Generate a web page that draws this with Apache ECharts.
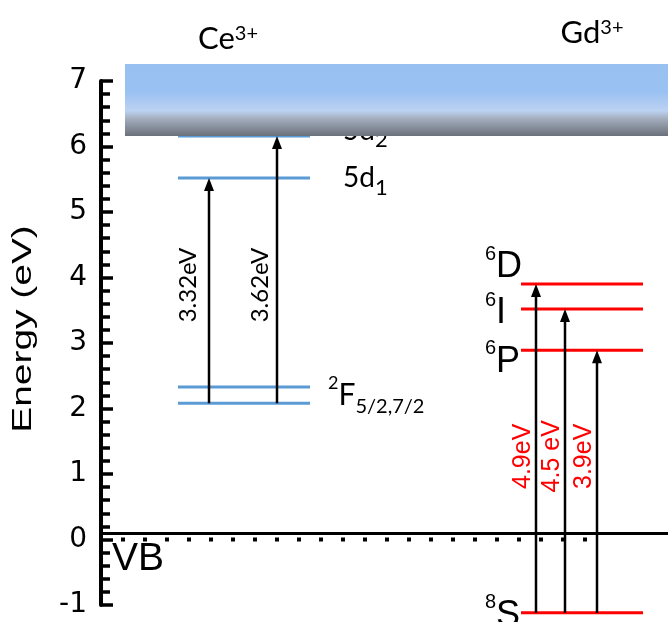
<!DOCTYPE html>
<html>
<head>
<meta charset="utf-8">
<script src="https://cdn.jsdelivr.net/npm/echarts@6/dist/echarts.min.js"></script>
<style>
html,body{margin:0;padding:0;background:#fff;}
#c{width:668px;height:622px;}
</style>
</head>
<body>
<div id="c"></div>
<script>
// ---------------- data ----------------
const yMin = -1, yMax = 7, yStep = 1;
const axisTitle = 'Energy (eV)';
const ionTitles = ['{m|Ce}{p|3+}', '{m|Gd}{p|3+}'];

const ceLevelEnergies = [6.16, 5.52, 2.33, 2.08];
const ceLevelLabels = ['{m|5d}{s|2}', '{m|5d}{s|1}', '', '{p|2}{f|F}{q|5/2,7/2}'];
const ceTransitionFrom = [2.08, 2.08];
const ceTransitionTo = [5.52, 6.16];
const ceTransitionLabels = ['3.32eV', '3.62eV'];

const gdLevelEnergies = [3.90, 3.52, 2.89, -1.12];
const gdLevelLabels = ['{p|6}{m|D}', '{p|6}{m|I}', '{p|6}{m|P}', '{p|8}{m|S}'];
const gdTransitionFrom = [-1.12, -1.12, -1.12];
const gdTransitionTo = [3.90, 3.52, 2.89];
const gdTransitionLabels = ['4.9eV', '4.5 eV', '3.9eV'];

const cbBand = [6.16, 7.26];       // conduction band (bottom, top)
const vbEnergy = 0;                // valence band top (dotted)
const baselineEnergy = 0.09;       // solid reference line
const vbLabel = 'VB';

// ---------------- layout (x in axis units = px from plot left) ----------------
const L = {
  grid: {left: 101, right: 0, top: 81, bottom: 17},
  xMax: 567,
  ce: {x0: 77, x1: 209, labelX: [242, 242, 0, 227], labelDy: [-5.5, 0.5, 0, -8],
       arrowX: [108, 176], arrowLabelDx: [-21, -17], arrowLabelY: 3.885},
  gd: {x0: 420, x1: 542, labelLeft: 384, labelDy: [-17, 4.5, 11.5, 3],
       arrowX: [435, 464, 496], arrowLabelDx: -12.5, arrowLabelY: 1.27},
  band: {x0: 24, x1: 567},
  dots: {x0: -2, x1: 491},
  vbLabelX: 11, vbLabelDy: 20
};

const LATO = 'Lato, "Open Sans", sans-serif';
const ARIAL = '"Liberation Sans", Arial, sans-serif';
const BLUE = '#5b9bd5', RED = '#ff0000';

const ceRich = {
  m: {fontFamily: LATO, fontSize: 28, lineHeight: 41, color: '#000'},
  s: {fontFamily: LATO, fontSize: 22, lineHeight: 22, verticalAlign: 'bottom', color: '#000'},
  p: {fontFamily: LATO, fontSize: 18, lineHeight: 30, verticalAlign: 'top', color: '#000'},
  f: {fontFamily: LATO, fontSize: 30, lineHeight: 43, color: '#000'},
  q: {fontFamily: LATO, fontSize: 20, lineHeight: 20, verticalAlign: 'bottom', color: '#000'}
};
const gdRich = {
  m: {fontFamily: ARIAL, fontSize: 36, lineHeight: 46, color: '#000'},
  p: {fontFamily: ARIAL, fontSize: 20, lineHeight: 20, verticalAlign: 'top', color: '#000'}
};
const titleRich = {
  m: {fontFamily: LATO, fontSize: 31, lineHeight: 30, color: '#000'},
  p: {fontFamily: LATO, fontSize: 20, lineHeight: 21, verticalAlign: 'top', color: '#000'}
};

function arrow(api, xv, from, to, color) {
  const a = api.coord([xv, from]), b = api.coord([xv, to]);
  const head = 13, hw = 5;
  return [
    {type: 'line', shape: {x1: a[0], y1: a[1], x2: b[0], y2: b[1] + head - 1},
     style: {stroke: color, lineWidth: 2.5}},
    {type: 'polygon', shape: {points: [[b[0], b[1]], [b[0] - hw, b[1] + head], [b[0] + hw, b[1] + head]]},
     style: {fill: color}}
  ];
}

const chart = echarts.init(document.getElementById('c'), null, {renderer: 'canvas'});

const option = {
  animation: false,
  backgroundColor: '#fff',
  grid: L.grid,
  xAxis: {type: 'value', min: 0, max: L.xMax, show: false},
  yAxis: {
    type: 'value', min: yMin, max: yMax, interval: yStep,
    axisLine: {show: true, lineStyle: {color: '#000', width: 4}},
    axisTick: {show: true, inside: true, length: 12, lineStyle: {color: '#000', width: 3.5}},
    minorTick: {show: true, splitNumber: 5, length: 9, lineStyle: {color: '#000', width: 3.5}},
    splitLine: {show: false},
    axisLabel: {fontFamily: 'DejaVu Sans', fontSize: 28, color: '#000', margin: 14}
  },
  graphic: [
    {type: 'text', x: 23, y: 329, rotation: Math.PI / 2, scaleX: 1.39,
     style: {text: axisTitle, font: '28px ' + ARIAL, fill: '#000', align: 'center', verticalAlign: 'middle'}},
    {type: 'text', x: 228, y: 39,
     style: {text: ionTitles[0], rich: titleRich, align: 'center', verticalAlign: 'middle', fill: '#000'}},
    {type: 'text', x: 592, y: 33,
     style: {text: ionTitles[1], rich: titleRich, align: 'center', verticalAlign: 'middle', fill: '#000'}}
  ],
  series: [
    // reference lines: baseline + dotted VB
    {
      type: 'custom', name: 'VB', clip: false, z: 2,
      data: [[0, vbEnergy, baselineEnergy]],
      renderItem(params, api) {
        const v = api.value(1), b = api.value(2);
        const s0 = api.coord([0, b]), s1 = api.coord([L.xMax, b]);
        const d0 = api.coord([L.dots.x0, v]), d1 = api.coord([L.dots.x1, v]);
        const lbl = api.coord([L.vbLabelX, v]);
        return {type: 'group', children: [
          {type: 'line', shape: {x1: s0[0], y1: s0[1], x2: s1[0], y2: s1[1]}, style: {stroke: '#000', lineWidth: 3}},
          {type: 'line', shape: {x1: d0[0], y1: d0[1], x2: d1[0], y2: d1[1]},
           style: {stroke: '#000', lineWidth: 4, lineDash: [4, 18]}},
          {type: 'text', x: lbl[0], y: lbl[1] + L.vbLabelDy,
           style: {text: vbLabel, font: '39px ' + ARIAL, fill: '#000', align: 'left', verticalAlign: 'middle'}}
        ]};
      }
    },
    // Ce levels
    {
      type: 'custom', name: 'Ce levels', clip: false, z: 3,
      data: ceLevelEnergies.map((e, i) => [i, e]),
      encode: {x: 0, y: 1},
      renderItem(params, api) {
        const i = params.dataIndex, e = api.value(1);
        const p0 = api.coord([L.ce.x0, e]), p1 = api.coord([L.ce.x1, e]);
        const ch = [{type: 'line', shape: {x1: p0[0], y1: p0[1], x2: p1[0], y2: p1[1]},
                     style: {stroke: BLUE, lineWidth: 3}}];
        if (ceLevelLabels[i]) {
          const lx = api.coord([L.ce.labelX[i], e])[0];
          ch.push({type: 'text', x: lx, y: p0[1] + L.ce.labelDy[i],
                   style: {text: ceLevelLabels[i], rich: ceRich, align: 'left', verticalAlign: 'middle', fill: '#000'}});
        }
        return {type: 'group', children: ch};
      }
    },
    // Ce transitions
    {
      type: 'custom', name: 'Ce transitions', clip: false, z: 4,
      data: ceTransitionFrom.map((f, i) => [i, f, ceTransitionTo[i]]),
      encode: {x: 0, y: [1, 2]},
      renderItem(params, api) {
        const i = params.dataIndex;
        const xv = L.ce.arrowX[i];
        const ch = arrow(api, xv, api.value(1), api.value(2), '#000');
        const lp = api.coord([xv, L.ce.arrowLabelY]);
        ch.push({type: 'text', x: lp[0] + L.ce.arrowLabelDx[i], y: lp[1], rotation: Math.PI / 2,
                 style: {text: ceTransitionLabels[i], font: '24px ' + LATO, fill: '#000', align: 'center', verticalAlign: 'middle'}});
        return {type: 'group', children: ch};
      }
    },
    // Gd levels
    {
      type: 'custom', name: 'Gd levels', clip: false, z: 3,
      data: gdLevelEnergies.map((e, i) => [i, e]),
      encode: {x: 0, y: 1},
      renderItem(params, api) {
        const i = params.dataIndex, e = api.value(1);
        const p0 = api.coord([L.gd.x0, e]), p1 = api.coord([L.gd.x1, e]);
        const lx = api.coord([L.gd.labelLeft, e])[0];
        return {type: 'group', children: [
          {type: 'line', shape: {x1: p0[0], y1: p0[1], x2: p1[0], y2: p1[1]}, style: {stroke: RED, lineWidth: 3}},
          {type: 'text', x: lx, y: p0[1] + L.gd.labelDy[i],
           style: {text: gdLevelLabels[i], rich: gdRich, align: 'left', verticalAlign: 'middle', fill: '#000'}}
        ]};
      }
    },
    // Gd transitions
    {
      type: 'custom', name: 'Gd transitions', clip: false, z: 4,
      data: gdTransitionFrom.map((f, i) => [i, f, gdTransitionTo[i]]),
      encode: {x: 0, y: [1, 2]},
      renderItem(params, api) {
        const i = params.dataIndex;
        const xv = L.gd.arrowX[i];
        const ch = arrow(api, xv, api.value(1), api.value(2), '#000');
        const lp = api.coord([xv, L.gd.arrowLabelY]);
        ch.push({type: 'text', x: lp[0] + L.gd.arrowLabelDx, y: lp[1], rotation: Math.PI / 2,
                 style: {text: gdTransitionLabels[i], font: '25px ' + ARIAL, fill: RED, align: 'center', verticalAlign: 'middle'}});
        return {type: 'group', children: ch};
      }
    },
    // conduction band (drawn on top)
    {
      type: 'custom', name: 'CB', clip: false, z: 10,
      data: [[0, cbBand[0], cbBand[1]]],
      encode: {x: 0, y: [1, 2]},
      renderItem(params, api) {
        const a = api.coord([L.band.x0, api.value(2)]);
        const b = api.coord([L.band.x1, api.value(1)]);
        return {type: 'rect', shape: {x: a[0], y: a[1], width: b[0] - a[0], height: b[1] - a[1]},
          style: {fill: new echarts.graphic.LinearGradient(0, 0, 0, 1, [
            {offset: 0, color: '#98c0f1'},
            {offset: 0.38, color: '#99c1f2'},
            {offset: 0.55, color: '#b0cbf2'},
            {offset: 0.65, color: '#bcd2f2'},
            {offset: 0.76, color: '#a3adbd'},
            {offset: 1, color: '#6c717b'}
          ])}};
      }
    }
  ]
};
chart.setOption(option);
</script>
</body>
</html>
